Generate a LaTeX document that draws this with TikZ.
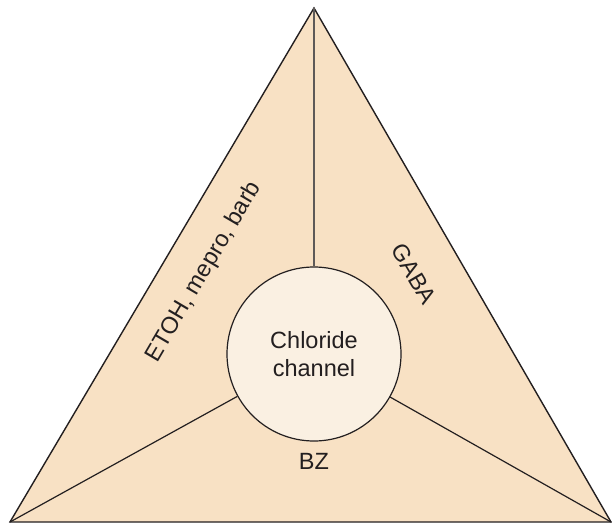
\documentclass[tikz,border=0pt]{standalone}
\usepackage{fontspec}
\setmainfont{Liberation Sans}
\definecolor{trifill}{HTML}{F8E1C4}
\definecolor{circfill}{HTML}{FAF0E2}
\definecolor{edge}{HTML}{231F20}
\definecolor{spoke}{HTML}{5E5A58}
\tikzset{
  lbl/.style={font=\fontsize{23.5}{28}\selectfont, text=edge},
}
\begin{document}
\begin{tikzpicture}[x=1pt,y=-1pt]
\useasboundingbox (0,0) rectangle (612,529);
\coordinate (apex) at (314,8);
\coordinate (bl) at (10,522);
\coordinate (br) at (611,522);
\draw[edge, line width=1.4pt, fill=trifill, line join=miter] (apex) -- (bl) -- (br) -- cycle;
\node[circle, draw=edge, line width=1.2pt, fill=circfill, minimum size=174pt, inner sep=0pt,
      lbl, align=center] (cc) at (314,354) {Chloride\\channel};
\draw[spoke, line width=1.5pt] (apex) -- (cc);
\draw[edge, line width=1.2pt] (cc) -- (bl);
\draw[edge, line width=1.2pt] (cc) -- (br);
\node[lbl, rotate=59.5] (etoh) at (204,272) {ETOH, mepro, barb};
\node[lbl, rotate=-59.5] (gaba) at (414,274) {GABA};
\node[lbl] (bz) at (314,461) {BZ};
\end{tikzpicture}
\end{document}
